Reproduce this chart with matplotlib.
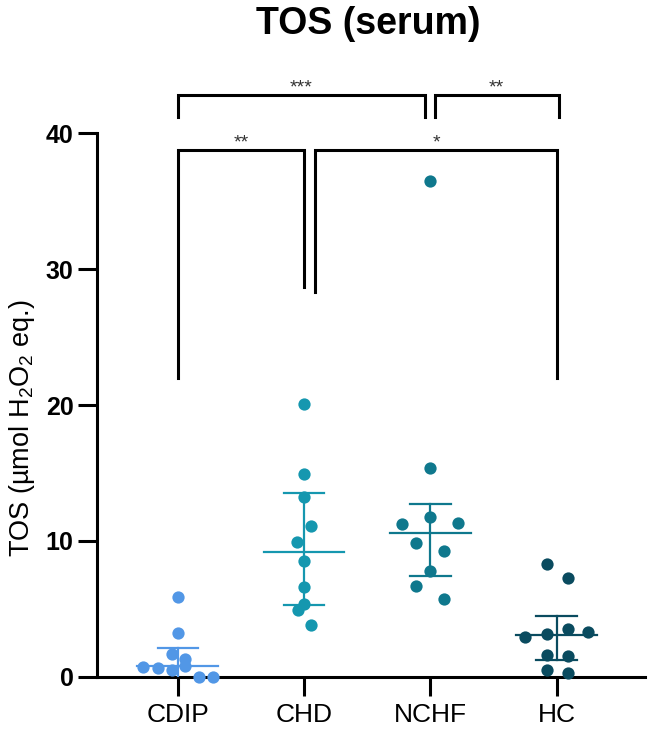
import matplotlib
matplotlib.use("Agg")
import matplotlib.pyplot as plt
import numpy as np

plt.rcParams['font.family'] = ['Liberation Sans', 'DejaVu Sans']
plt.rcParams['mathtext.fontset'] = 'custom'
plt.rcParams['mathtext.rm'] = 'Liberation Sans'

groups = ["CDIP", "CHD", "NCHF", "HC"]
colors = ["#5297e6", "#1597af", "#0f788d", "#0a4b5f"]

# individual values, with the horizontal jitter (in px)
cdip = [5.9, 3.2, 1.7, 1.3, 0.7, 0.65, 0.5, 0.8, 0.0, 0.0]
cdip_dx = [0, 0, -6, 7, -35, -20, -6, 7, 21, 35]
chd = [20.1, 14.9, 13.2, 11.1, 9.9, 8.5, 6.6, 5.4, 4.9, 3.8]
chd_dx = [0, 0, 0, 7, -7, 0, 0, 0, -6, 7]
nchf = [36.5, 15.4, 11.8, 11.25, 11.3, 9.85, 9.3, 7.8, 6.7, 5.7]
nchf_dx = [0, 0, 0, -28, 28, -14, 14, 0, -14, 14]
hc = [8.3, 7.3, 2.95, 3.15, 3.5, 3.3, 1.6, 1.55, 0.5, 0.3]
hc_dx = [-10, 11, -32, -10, 11, 31, -10, 11, -10, 11]

values = [cdip, chd, nchf, hc]
offsets = [cdip_dx, chd_dx, nchf_dx, hc_dx]

# central line and error bar ends
center = [0.8, 9.2, 10.6, 3.1]
upper = [2.1, 13.5, 12.7, 4.5]
lower = [-0.5, 5.3, 7.4, 1.25]

# significance brackets: x1, x2, height, left leg end, right leg end, label
brackets = [
    (0.0, 1.956, 42.8, 41.2, 41.2, "***"),
    (2.035, 3.017, 42.8, 41.2, 41.2, "**"),
    (0.0, 1.0, 38.75, 22.0, 28.7, "**"),
    (1.09, 3.0, 38.75, 28.3, 22.0, "*"),
]

fig = plt.figure(figsize=(6.5, 7.39), dpi=100)
ax = fig.add_axes([97 / 650, 62 / 739, 548 / 650, 544 / 739])
px = 126.3  # pixels per category

for i, (vals, dxs) in enumerate(zip(values, offsets)):
    xs = [i + d / px for d in dxs]
    ax.scatter(xs, vals, s=78, marker="o", color=colors[i], zorder=4, clip_on=False, linewidths=0)
    ax.plot([i - 0.32, i + 0.32], [center[i], center[i]], color=colors[i], lw=1.6, zorder=3)
    ax.plot([i, i], [lower[i], upper[i]], color=colors[i], lw=1.6, zorder=3)
    for y in (lower[i], upper[i]):
        ax.plot([i - 0.16, i + 0.16], [y, y], color=colors[i], lw=1.6, zorder=3)

for x1, x2, h, l1, l2, lab in brackets:
    ax.plot([x1, x1, x2, x2], [l1, h, h, l2], color="black", lw=2.2, clip_on=False,
            solid_joinstyle="miter", zorder=5)
    ax.text((x1 + x2) / 2, h + 0.2, lab, ha="center", va="baseline", fontsize=14,
            color="#333333")

ax.set_xlim(-0.64, 3.7)
ax.set_ylim(0, 40)
ax.set_xticks(range(4))
ax.set_xticklabels(groups, fontsize=19)
ax.set_yticks([0, 10, 20, 30, 40])
ax.set_yticklabels(["0", "10", "20", "30", "40"], fontsize=18, fontweight="bold")
ax.tick_params(axis="both", length=14, width=2.2, pad=3)
ax.tick_params(axis="x", pad=5)
for side in ("top", "right"):
    ax.spines[side].set_visible(False)
for side in ("left", "bottom"):
    ax.spines[side].set_linewidth(2.2)

fig.text(22 / 650, 1 - 428 / 739, r"TOS (µmol H$_2$O$_2$ eq.)", rotation=90,
         ha="center", va="center", fontsize=19.5)
fig.text(368 / 650, 1 - 24 / 739, "TOS (serum)", ha="center", va="center",
         fontsize=27, fontweight="bold")

fig.savefig("out.png", dpi=100)
